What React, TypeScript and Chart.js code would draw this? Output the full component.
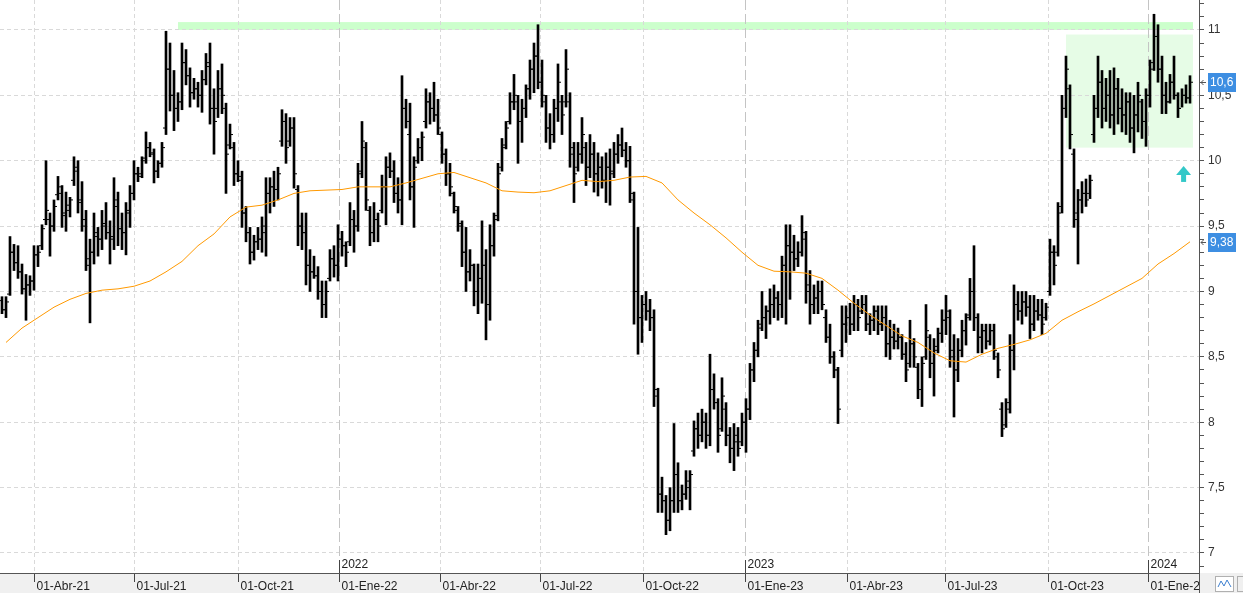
import React, { useEffect, useRef } from 'react';
import { Chart, registerables } from 'chart.js';

Chart.register(...registerables);

// ---- Price bars (OHLC), one bar every ~2.5 sessions, Mar-2021 .. Feb-2024 ----
const barHigh = [
  8.96, 8.96, 9.42, 9.36, 9.35, 9.21, 9.13, 9.12, 9.35, 9.35,
  9.51, 10.0, 9.6, 9.7, 9.88, 9.81, 9.76, 9.72, 10.03, 10.0,
  9.84, 9.62, 9.4, 9.6, 9.49, 9.62, 9.68, 9.54, 9.87, 9.76,
  9.6, 9.68, 9.81, 10.0, 9.95, 10.03, 10.22, 10.14, 10.09, 10.0,
  10.14, 10.99, 10.9, 10.69, 10.52, 10.9, 10.85, 10.71, 10.63, 10.6,
  10.69, 10.82,
  10.9, 10.55, 10.69, 10.74, 10.44, 10.28, 10.14, 10.0, 9.92, 9.65,
  9.49, 9.43, 9.49, 9.57, 9.87, 9.87, 9.92, 9.95, 10.39, 10.36,
  10.33, 10.33, 9.81, 9.6, 9.6, 9.32, 9.27, 9.19, 9.08, 9.08,
  9.32, 9.35, 9.51, 9.46, 9.38, 9.68, 9.62, 9.98, 10.3, 10.14,
  9.65, 9.68, 9.6, 9.89, 10.03, 10.06, 10.0, 9.87, 10.65, 10.47,
  10.44, 10.03, 10.17, 10.22, 10.55, 10.52, 10.6, 10.47, 10.22, 10.09,
  9.98, 9.76, 9.65, 9.54, 9.49, 9.32, 9.21, 9.21, 9.54, 9.32,
  9.51, 9.6, 9.98, 10.17, 10.3, 10.52, 10.66, 10.5, 10.47, 10.58,
  10.77, 10.9, 11.04, 10.77, 10.5, 10.36, 10.47, 10.74, 10.5, 10.85,
  10.52, 10.14, 10.14, 10.33, 10.14, 10.2, 10.14, 10.06, 10.03, 10.06,
  10.09, 10.14, 10.2, 10.25, 10.14, 10.11, 9.76, 9.49, 8.97, 9.0,
  8.94, 8.86, 8.26, 7.58, 7.44, 7.5, 7.99, 7.69, 7.52, 7.63,
  7.63, 8.01, 8.07, 8.1, 8.07, 8.52, 8.37, 8.18, 8.34, 8.15,
  7.96, 7.99, 7.96, 8.07, 8.18, 8.45, 8.61, 8.78, 9.0, 8.89,
  9.02, 9.05, 9.0, 9.27, 9.51, 9.51, 9.43, 9.38, 9.58, 9.46,
  9.16, 9.05, 9.08, 9.08, 8.86, 8.75, 8.54, 8.42, 8.89, 8.89,
  8.91, 8.97, 8.94, 8.97, 8.97, 8.83, 8.89, 8.89, 8.89, 8.89,
  8.78, 8.75, 8.72, 8.67, 8.61, 8.78, 8.64, 8.45, 8.5, 8.9,
  8.67, 8.64, 8.72, 8.86, 8.97, 8.86, 8.67, 8.64, 8.78, 8.83,
  9.1, 9.35, 8.83, 8.75, 8.75, 8.75, 8.75, 8.53, 8.15, 8.18,
  8.67, 9.05, 9.0, 9.0, 9.0, 8.97, 8.97, 8.94, 8.94, 8.91,
  9.4, 9.35, 9.68, 10.5, 10.8, 10.58, 10.09, 9.78, 9.84, 9.86,
  9.89, 10.5, 10.8, 10.69, 10.63, 10.69, 10.71, 10.63, 10.55, 10.52,
  10.52, 10.5, 10.6, 10.47, 10.55, 10.77, 11.12, 11.04, 10.8, 10.6,
  10.66, 10.8, 10.52, 10.55, 10.58, 10.65,
];

const barLow = [
  8.83, 8.8, 8.97, 9.16, 9.1, 8.98, 8.78, 8.97, 9.01, 9.19,
  9.32, 9.51, 9.27, 9.46, 9.7, 9.49, 9.46, 9.57, 9.81, 9.6,
  9.46, 9.16, 8.76, 9.21, 9.27, 9.32, 9.4, 9.21, 9.32, 9.35,
  9.32, 9.28, 9.49, 9.7, 9.84, 9.87, 9.98, 10.03, 9.83, 9.87,
  9.95, 10.2, 10.38, 10.23, 10.3, 10.39, 10.58, 10.41, 10.47, 10.41,
  10.37, 10.58,
  10.28, 10.05, 10.33, 10.36, 9.75, 10.09, 9.81, 9.84, 9.49, 9.38,
  9.21, 9.24, 9.32, 9.3, 9.27, 9.6, 9.65, 9.7, 10.11, 9.98,
  10.11, 9.79, 9.35, 9.32, 9.05, 9.0, 9.1, 8.94, 8.8, 8.8,
  9.08, 9.11, 9.08, 9.27, 9.19, 9.35, 9.3, 9.46, 9.87, 9.62,
  9.35, 9.38, 9.38, 9.6, 9.51, 9.87, 9.68, 9.6, 9.51, 10.25,
  9.7, 9.49, 9.98, 10.0, 10.25, 10.28, 10.3, 10.2, 9.98, 9.81,
  9.73, 9.6, 9.46, 9.19, 9.0, 9.08, 8.89, 8.83, 8.91, 8.63,
  8.78, 9.27, 9.54, 9.92, 10.09, 10.28, 10.39, 9.98, 10.14, 10.33,
  10.47, 10.52, 10.55, 10.41, 10.14, 10.09, 10.14, 10.3, 10.2, 10.41,
  9.95, 9.68, 9.92, 9.98, 9.81, 9.87, 9.76, 9.73, 9.79, 9.68,
  9.66, 9.87, 9.98, 10.03, 9.95, 9.68, 8.75, 8.52, 8.61, 8.78,
  8.7, 8.12, 7.31, 7.31, 7.14, 7.17, 7.31, 7.31, 7.33, 7.41,
  7.33, 7.74, 7.8, 7.85, 7.8, 7.82, 8.1, 7.77, 7.93, 7.82,
  7.69, 7.63, 7.74, 7.82, 7.77, 8.02, 8.31, 8.5, 8.7, 8.64,
  8.75, 8.8, 8.78, 8.8, 8.75, 8.94, 9.16, 9.19, 9.27, 8.91,
  8.75, 8.83, 8.83, 8.86, 8.61, 8.45, 8.34, 7.99, 8.5, 8.61,
  8.67, 8.7, 8.7, 8.83, 8.7, 8.67, 8.7, 8.67, 8.7, 8.5,
  8.48, 8.56, 8.56, 8.48, 8.31, 8.42, 8.42, 8.18, 8.12, 8.48,
  8.34, 8.2, 8.53, 8.61, 8.67, 8.42, 8.04, 8.31, 8.5, 8.59,
  8.78, 8.7, 8.53, 8.53, 8.56, 8.59, 8.48, 8.34, 7.89, 7.96,
  8.07, 8.4, 8.78, 8.75, 8.81, 8.64, 8.7, 8.78, 8.67, 8.78,
  8.97, 9.05, 9.27, 9.6, 10.33, 10.09, 9.49, 9.21, 9.6, 9.65,
  9.71, 10.14, 10.33, 10.25, 10.3, 10.25, 10.2, 10.28, 10.22, 10.2,
  10.14, 10.06, 10.22, 10.17, 10.11, 10.41, 10.69, 10.6, 10.36, 10.36,
  10.44, 10.47, 10.33, 10.41, 10.44, 10.44,
];

const barOpen = [
  8.93, 8.86, 8.98, 9.3, 9.22, 9.15, 9.02, 9.05, 9.08, 9.28,
  9.35, 9.55, 9.55, 9.5, 9.74, 9.75, 9.58, 9.62, 9.85, 9.92,
  9.68, 9.5, 9.2, 9.3, 9.42, 9.4, 9.5, 9.45, 9.42, 9.65,
  9.48, 9.45, 9.6, 9.75, 9.9, 9.9, 10.02, 10.1, 10.05, 9.92,
  9.98, 10.25, 10.7, 10.5, 10.4, 10.45, 10.75, 10.65, 10.52, 10.55,
  10.5, 10.62,
  10.75, 10.4, 10.4, 10.55, 10.4, 10.12, 10.1, 9.9, 9.85, 9.6,
  9.45, 9.3, 9.38, 9.4, 9.45, 9.75, 9.8, 9.78, 10.15, 10.3,
  10.15, 10.25, 9.78, 9.5, 9.45, 9.2, 9.15, 9.12, 9.0, 8.9,
  9.1, 9.25, 9.2, 9.4, 9.35, 9.38, 9.55, 9.5, 9.92, 10.1,
  9.62, 9.45, 9.55, 9.62, 9.8, 9.95, 9.92, 9.75, 9.7, 10.4,
  10.2, 9.8, 10.0, 10.1, 10.3, 10.45, 10.4, 10.35, 10.2, 10.05,
  9.9, 9.75, 9.62, 9.5, 9.3, 9.15, 9.2, 9.0, 9.1, 9.2,
  8.9, 9.35, 9.58, 9.95, 10.12, 10.3, 10.45, 10.45, 10.3, 10.4,
  10.55, 10.7, 10.8, 10.6, 10.45, 10.25, 10.2, 10.4, 10.45, 10.45,
  10.45, 10.05, 9.95, 10.05, 10.1, 9.95, 10.05, 9.9, 9.95, 9.85,
  9.95, 9.92, 10.05, 10.12, 10.08, 10.0, 9.7, 9.0, 8.8, 8.9,
  8.85, 8.8, 8.2, 7.45, 7.4, 7.25, 7.4, 7.6, 7.4, 7.45,
  7.5, 7.78, 7.95, 7.9, 8.0, 7.9, 8.25, 8.15, 7.95, 8.1,
  7.9, 7.8, 7.85, 7.85, 8.0, 8.1, 8.4, 8.55, 8.75, 8.8,
  8.85, 8.9, 8.95, 8.9, 9.2, 9.35, 9.3, 9.25, 9.3, 9.4,
  9.05, 8.9, 8.95, 9.0, 8.8, 8.65, 8.5, 8.4, 8.55, 8.75,
  8.8, 8.75, 8.9, 8.85, 8.9, 8.75, 8.78, 8.85, 8.75, 8.8,
  8.6, 8.65, 8.62, 8.65, 8.52, 8.45, 8.6, 8.42, 8.25, 8.5,
  8.65, 8.45, 8.58, 8.68, 8.78, 8.8, 8.5, 8.4, 8.55, 8.7,
  8.82, 9.0, 8.8, 8.65, 8.7, 8.62, 8.7, 8.5, 8.1, 7.98,
  8.15, 8.55, 8.9, 8.85, 8.92, 8.88, 8.75, 8.85, 8.82, 8.8,
  9.0, 9.3, 9.3, 9.65, 10.4, 10.55, 10.05, 9.55, 9.7, 9.75,
  9.75, 10.2, 10.4, 10.6, 10.4, 10.5, 10.35, 10.55, 10.4, 10.35,
  10.45, 10.25, 10.35, 10.45, 10.3, 10.5, 10.75, 10.95, 10.7, 10.5,
  10.45, 10.6, 10.5, 10.4, 10.5, 10.48,
];

const barClose = [
  8.86, 8.92, 9.3, 9.22, 9.15, 9.02, 9.05, 9.08, 9.28, 9.3,
  9.48, 9.62, 9.5, 9.65, 9.8, 9.6, 9.66, 9.7, 9.95, 9.7,
  9.55, 9.25, 9.3, 9.45, 9.4, 9.52, 9.45, 9.4, 9.7, 9.48,
  9.45, 9.62, 9.75, 9.9, 9.88, 10.0, 10.1, 10.06, 9.92, 9.98,
  10.1, 10.7, 10.5, 10.4, 10.45, 10.75, 10.65, 10.52, 10.55, 10.5,
  10.62, 10.72,
  10.4, 10.3, 10.55, 10.5, 10.05, 10.2, 9.9, 9.88, 9.6, 9.45,
  9.3, 9.38, 9.4, 9.5, 9.75, 9.8, 9.78, 9.9, 10.3, 10.1,
  10.25, 9.9, 9.5, 9.45, 9.2, 9.15, 9.12, 9.0, 8.9, 9.0,
  9.25, 9.2, 9.4, 9.35, 9.3, 9.55, 9.5, 9.9, 10.15, 9.7,
  9.45, 9.55, 9.5, 9.8, 9.95, 9.92, 9.75, 9.7, 10.4, 10.3,
  9.8, 9.95, 10.1, 10.18, 10.45, 10.4, 10.35, 10.25, 10.05, 9.9,
  9.8, 9.65, 9.52, 9.3, 9.15, 9.2, 9.0, 9.1, 9.2, 8.9,
  9.35, 9.55, 9.9, 10.1, 10.25, 10.45, 10.5, 10.3, 10.4, 10.55,
  10.7, 10.8, 10.6, 10.5, 10.25, 10.2, 10.4, 10.6, 10.35, 10.7,
  10.1, 9.9, 10.05, 10.2, 9.95, 10.05, 9.9, 9.95, 9.85, 9.95,
  9.9, 10.05, 10.12, 10.08, 10.0, 9.75, 9.0, 8.8, 8.9, 8.85,
  8.8, 8.25, 7.45, 7.4, 7.25, 7.4, 7.6, 7.4, 7.45, 7.55,
  7.6, 7.95, 7.9, 8.0, 7.9, 8.25, 8.15, 7.9, 8.2, 7.9,
  7.8, 7.9, 7.8, 8.0, 8.1, 8.4, 8.55, 8.72, 8.8, 8.85,
  8.9, 8.95, 8.9, 9.2, 9.35, 9.3, 9.25, 9.3, 9.45, 9.0,
  8.9, 8.95, 9.0, 8.9, 8.65, 8.5, 8.4, 8.1, 8.75, 8.8,
  8.75, 8.9, 8.8, 8.9, 8.75, 8.78, 8.85, 8.75, 8.8, 8.6,
  8.65, 8.62, 8.65, 8.52, 8.4, 8.6, 8.5, 8.25, 8.45, 8.7,
  8.45, 8.55, 8.68, 8.78, 8.85, 8.55, 8.4, 8.55, 8.7, 8.8,
  9.0, 8.8, 8.65, 8.7, 8.62, 8.7, 8.55, 8.4, 7.95, 8.1,
  8.55, 8.9, 8.85, 8.92, 8.88, 8.75, 8.85, 8.82, 8.75, 8.88,
  9.3, 9.2, 9.6, 10.4, 10.7, 10.2, 9.6, 9.7, 9.75, 9.7,
  9.85, 10.4, 10.6, 10.4, 10.5, 10.35, 10.55, 10.4, 10.35, 10.45,
  10.25, 10.35, 10.5, 10.3, 10.5, 10.7, 10.95, 10.7, 10.5, 10.45,
  10.6, 10.5, 10.4, 10.5, 10.48, 10.6,
];

// ---- Moving average (orange), one value every 4 bars starting at bar 1 ----
const maValues = [
  8.61, 8.72, 8.8, 8.88, 8.94, 8.985, 9.01, 9.02, 9.04, 9.08,
  9.15, 9.23, 9.35, 9.44, 9.57, 9.645, 9.66, 9.7, 9.75, 9.77,
  9.775, 9.78, 9.8, 9.8, 9.8, 9.83, 9.865, 9.9, 9.91, 9.87,
  9.83, 9.77, 9.76, 9.755, 9.77, 9.81, 9.85, 9.84, 9.85, 9.875,
  9.88, 9.83, 9.7, 9.6, 9.51, 9.41, 9.3, 9.2, 9.155, 9.15,
  9.14, 9.1, 9.01, 8.91, 8.82, 8.74, 8.66, 8.61, 8.53, 8.47,
  8.46, 8.52, 8.565, 8.595, 8.63, 8.68, 8.78, 8.845, 8.905, 8.97,
  9.035, 9.1, 9.21, 9.29, 9.38,
];

// ---- Axis ticks (positions in bar units) ----
const quarterTicks = [8.125, 33.125, 59.125, 84.375, 109.625, 134.625, 160.375, 185.875, 211.375, 235.875, 261.625, 286.625];
const quarterLabels = ['01-Abr-21', '01-Jul-21', '01-Oct-21', '01-Ene-22', '01-Abr-22', '01-Jul-22', '01-Oct-22', '01-Ene-23', '01-Abr-23', '01-Jul-23', '01-Oct-23', '01-Ene-24'];
const yearTicks = [84.375, 185.875, 286.625];
const yearLabels = ['2022', '2023', '2024'];
const yMajorTicks = [7, 7.5, 8, 8.5, 9, 9.5, 10, 10.5, 11];
const yMajorLabels = ['7', '7,5', '8', '8,5', '9', '9,5', '10', '10,5', '11'];

// ---- Annotations ----
const lastPrice = 10.6;
const lastPriceLabel = '10,6';
const maLastLabel = '9,38';
const resistanceBand = [44, 297.75, 11.0, 11.06];
const rangeBox = [266, 297.75, 10.1, 10.965];
const signalArrow = [295.4, 9.96];

const FONT_FAMILY = '"Liberation Sans", Arial, Helvetica, sans-serif';

const near = (a: number, b: number) => Math.abs(a - b) < 1e-6;

export default function App() {
  const ref = useRef<HTMLCanvasElement>(null);

  useEffect(() => {
    document.body.style.margin = '0';
    const canvas = ref.current;
    if (!canvas) return;

    const n = Math.min(barHigh.length, barLow.length, barOpen.length, barClose.length);
    const idx = Array.from({ length: n }, (_, i) => i);
    const barData = idx.map((i) => ({ x: i, y: [barLow[i], barHigh[i]] }));
    const openData = idx.map((i) => ({ x: i - 0.5, y: barOpen[i] }));
    const closeData = idx.map((i) => ({ x: i + 0.5, y: barClose[i] }));
    const maData = maValues.map((v, j) => ({ x: 1 + 4 * j, y: v }));
    const yAllTicks: number[] = [];
    for (let k = 69; k <= 112; k++) yAllTicks.push(k / 10);

    const decor: any = {
      id: 'decor',
      beforeDraw(chart: any) {
        const { ctx, chartArea: a, scales } = chart;
        const xs = scales.x;
        const ys = scales.y;
        ctx.save();
        ctx.fillStyle = '#f0f0f0';
        ctx.fillRect(0, a.bottom, chart.width, chart.height - a.bottom);
        const box = (r: number[], color: string) => {
          const x0 = xs.getPixelForValue(r[0]);
          const x1 = xs.getPixelForValue(r[1]);
          const y0 = ys.getPixelForValue(r[3]);
          const y1 = ys.getPixelForValue(r[2]);
          ctx.fillStyle = color;
          ctx.fillRect(x0, y0, x1 - x0, y1 - y0);
        };
        box(rangeBox, '#e6fce6');
        box(resistanceBand, '#ccffcc');
        ctx.restore();
      },
      beforeDatasetsDraw(chart: any) {
        const { ctx, chartArea: a, scales } = chart;
        ctx.save();
        ctx.strokeStyle = '#c4c4c4';
        ctx.lineWidth = 1;
        ctx.setLineDash([10, 4]);
        yearTicks.forEach((t) => {
          const px = Math.round(scales.x.getPixelForValue(t) - 0.5) + 0.5;
          ctx.beginPath();
          ctx.moveTo(px, a.top);
          ctx.lineTo(px, a.bottom);
          ctx.stroke();
        });
        ctx.restore();
      },
      afterDraw(chart: any) {
        const { ctx, chartArea: a, scales } = chart;
        const xs = scales.x;
        const ys = scales.y;
        ctx.save();
        ctx.font = '12px ' + FONT_FAMILY;
        ctx.fillStyle = '#222';
        ctx.textBaseline = 'middle';
        ctx.textAlign = 'left';
        ctx.strokeStyle = '#444';
        ctx.lineWidth = 1;
        ctx.setLineDash([]);
        yearTicks.forEach((t, i) => {
          const px = Math.round(xs.getPixelForValue(t) - 0.5) + 0.5;
          ctx.beginPath();
          ctx.moveTo(px, a.bottom - 13);
          ctx.lineTo(px, a.bottom);
          ctx.stroke();
          ctx.fillText(yearLabels[i], px + 2, a.bottom - 8);
        });
        // bottom-right corner
        const rx = Math.round(a.right) + 0.5;
        ctx.fillStyle = '#f0f0f0';
        ctx.fillRect(rx, a.bottom + 1, chart.width - rx, chart.height - a.bottom);
        ctx.strokeStyle = '#555';
        ctx.beginPath();
        ctx.moveTo(rx, a.bottom);
        ctx.lineTo(rx, chart.height);
        ctx.stroke();
        ctx.fillStyle = '#ffffff';
        ctx.strokeStyle = '#b0b0b0';
        ctx.fillRect(1215.5, 576.5, 18, 15);
        ctx.strokeRect(1215.5, 576.5, 18, 15);
        ctx.strokeRect(1237.5, 576.5, 10, 15);
        ctx.strokeStyle = '#3d7fd0';
        ctx.beginPath();
        ctx.moveTo(1218, 587);
        ctx.lineTo(1221, 581);
        ctx.lineTo(1224, 586);
        ctx.lineTo(1227, 580);
        ctx.lineTo(1231, 587);
        ctx.stroke();

        // price labels on the value axis
        const tag = (v: number, text: string) => {
          const yc = Math.round(ys.getPixelForValue(v));
          ctx.fillStyle = '#3d8ee2';
          ctx.fillRect(1208, yc - 9, 28, 19);
          ctx.fillStyle = '#ffffff';
          ctx.font = '12px ' + FONT_FAMILY;
          ctx.textAlign = 'left';
          ctx.textBaseline = 'middle';
          ctx.fillText(text, 1210, yc + 1);
          ctx.strokeStyle = '#555';
          ctx.lineWidth = 1;
          ctx.beginPath();
          ctx.moveTo(1201, yc + 0.5);
          ctx.lineTo(1206, yc + 0.5);
          ctx.moveTo(1203.5, yc - 2);
          ctx.lineTo(1201, yc + 0.5);
          ctx.lineTo(1203.5, yc + 3);
          ctx.stroke();
        };
        tag(lastPrice, lastPriceLabel);
        tag(maValues[maValues.length - 1], maLastLabel);

        // signal arrow
        const ax = xs.getPixelForValue(signalArrow[0]);
        const ay = ys.getPixelForValue(signalArrow[1]);
        ctx.fillStyle = '#33c8c8';
        ctx.beginPath();
        ctx.moveTo(ax, ay);
        ctx.lineTo(ax + 7.5, ay + 9);
        ctx.lineTo(ax - 7.5, ay + 9);
        ctx.closePath();
        ctx.fill();
        ctx.fillRect(ax - 2.5, ay + 9, 5, 7);
        ctx.restore();
      },
    };

    const tickFont = { family: FONT_FAMILY, size: 12 };
    const tickSet = {
      type: 'line',
      showLine: false,
      pointStyle: 'line',
      pointRadius: 1,
      pointBorderWidth: 1,
      pointBorderColor: '#000000',
      pointBackgroundColor: '#000000',
      pointHoverRadius: 0,
      order: 1,
    };

    const chart = new Chart(canvas, {
      type: 'bar',
      data: {
        datasets: [
          {
            type: 'line',
            data: maData,
            borderColor: '#ff9900',
            borderWidth: 1,
            pointRadius: 0,
            tension: 0,
            order: 0,
          },
          { ...tickSet, data: openData },
          { ...tickSet, data: closeData },
          {
            type: 'bar',
            data: barData,
            backgroundColor: '#000000',
            borderWidth: 0,
            barThickness: 2,
            order: 2,
          },
        ],
      },
      options: {
        animation: false,
        responsive: false,
        maintainAspectRatio: false,
        layout: { padding: 0, autoPadding: false },
        plugins: { legend: { display: false }, tooltip: { enabled: false } },
        scales: {
          x: {
            type: 'linear',
            min: -0.5,
            max: 299.25,
            offset: false,
            afterBuildTicks: (s: any) => {
              s.ticks = quarterTicks.map((v) => ({ value: v }));
            },
            afterFit: (s: any) => {
              s.height = 20;
              s.paddingLeft = 0;
              s.paddingRight = 0;
            },
            grid: {
              offset: false,
              color: (c: any) =>
                c.tick && yearTicks.some((t) => near(t, c.tick.value)) ? 'rgba(0,0,0,0)' : '#d9d9d9',
              lineWidth: 1,
              drawTicks: true,
              tickLength: 9,
              tickColor: '#444',
              tickWidth: 1,
            },
            border: { display: true, color: '#555', width: 1, dash: [4, 3] },
            ticks: {
              autoSkip: false,
              maxRotation: 0,
              minRotation: 0,
              align: 'start',
              padding: -3,
              labelOffset: 2,
              color: '#222',
              font: tickFont,
              callback: (v: any) => {
                const i = quarterTicks.findIndex((t) => near(t, Number(v)));
                return i >= 0 ? quarterLabels[i] : '';
              },
            },
          },
          y: {
            type: 'linear',
            position: 'right',
            min: 6.847,
            max: 11.229,
            afterBuildTicks: (s: any) => {
              s.ticks = yAllTicks.map((v) => ({ value: v }));
            },
            afterFit: (s: any) => {
              s.width = 44;
              s.paddingTop = 0;
              s.paddingBottom = 0;
            },
            grid: {
              color: (c: any) =>
                c.tick && yMajorTicks.some((t) => near(t, c.tick.value)) ? '#d9d9d9' : 'rgba(0,0,0,0)',
              lineWidth: 1,
              drawTicks: true,
              tickLength: 5,
              tickColor: '#555',
              tickWidth: 1,
            },
            border: { display: true, color: '#555', width: 1, dash: [4, 3] },
            ticks: {
              autoSkip: false,
              padding: 4,
              color: '#333',
              font: tickFont,
              callback: (v: any) => {
                const i = yMajorTicks.findIndex((t) => near(t, Number(v)));
                return i >= 0 ? yMajorLabels[i] : '';
              },
            },
          },
        },
      },
      plugins: [decor],
    } as any);

    return () => chart.destroy();
  }, []);

  return <canvas ref={ref} width={1243} height={593} style={{ display: 'block' }} />;
}
